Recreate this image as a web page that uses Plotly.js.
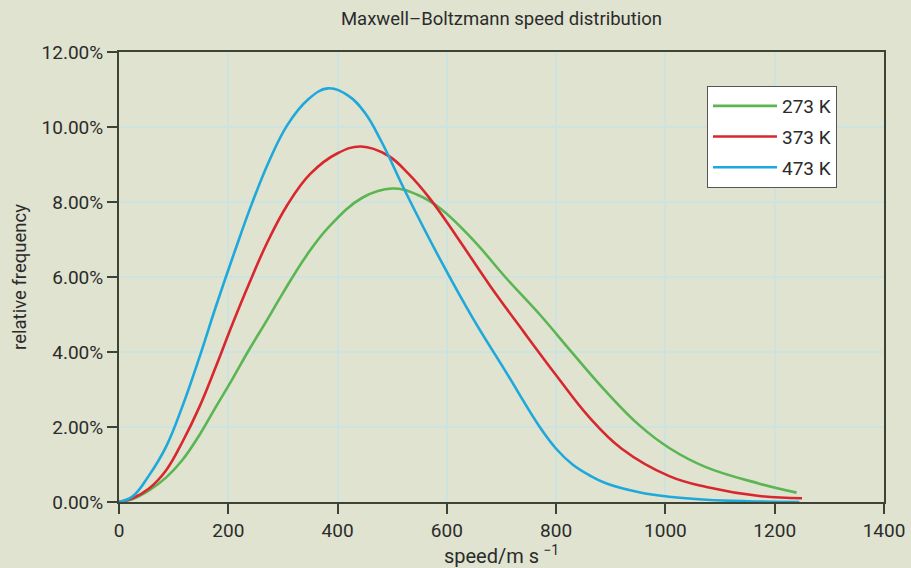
<!DOCTYPE html>
<html>
<head>
<meta charset="utf-8">
<script src="https://cdn.plot.ly/plotly-3.0.1.min.js"></script>
<style>html,body{margin:0;padding:0;background:#dfe3cf;}#chart{width:911px;height:568px;}</style>
</head>
<body>
<div id="chart"></div>
<script>
// Data (speed in m/s, relative frequency in %)
const seriesNames = ["273 K", "373 K", "473 K"];

const speed273 = [0, 25, 55, 86, 116, 147, 177, 208, 238, 270, 299, 342, 385, 446, 500, 545, 587, 648, 708, 770, 830, 891, 952, 1007, 1074, 1172, 1240];
const freq273  = [0, 0.08, 0.31, 0.65, 1.12, 1.78, 2.53, 3.29, 4.06, 4.83, 5.55, 6.55, 7.35, 8.12, 8.36, 8.2, 7.84, 6.99, 5.98, 5.0, 3.97, 2.95, 2.05, 1.44, 0.93, 0.49, 0.25];

const speed373 = [0, 25, 55, 86, 116, 147, 177, 208, 238, 270, 308, 350, 400, 443, 492, 530, 569, 617, 678, 740, 800, 860, 920, 1007, 1075, 1172, 1250];
const freq373  = [0, 0.1, 0.36, 0.84, 1.6, 2.53, 3.6, 4.76, 5.82, 6.88, 7.92, 8.75, 9.3, 9.48, 9.24, 8.75, 8.09, 7.1, 5.79, 4.55, 3.38, 2.27, 1.42, 0.69, 0.4, 0.16, 0.1];

const speed473 = [0, 25, 55, 86, 116, 147, 177, 211, 243, 275, 308, 345, 382, 420, 450, 480, 526, 587, 648, 708, 770, 800, 830, 860, 891, 952, 1007, 1075, 1150, 1245];
const freq473  = [0, 0.15, 0.71, 1.47, 2.55, 3.85, 5.2, 6.65, 7.95, 9.1, 10.05, 10.72, 11.03, 10.83, 10.38, 9.62, 8.22, 6.49, 4.89, 3.47, 2.0, 1.42, 1.0, 0.72, 0.5, 0.26, 0.14, 0.06, 0.02, 0.0];

const xTicks = [0, 200, 400, 600, 800, 1000, 1200, 1400];
const yTicks = [0, 2, 4, 6, 8, 10, 12];

const colors = ["#5ab552", "#d8272f", "#1fa8dc"];
const xs = [speed273, speed373, speed473];
const ys = [freq273, freq373, freq473];

const traces = seriesNames.map((n, i) => ({
  type: "scatter", mode: "lines", name: n,
  x: xs[i], y: ys[i],
  legendgroup: "g" + i,
  line: {color: colors[i], width: 2.6, shape: "spline", smoothing: 1.15}
}));

const axisColor = "#3e4434";
const gridColor = "#cde3df";
const font = "Roboto, 'Open Sans', sans-serif";

const layout = {
  width: 911, height: 568,
  paper_bgcolor: "#dfe3cf", plot_bgcolor: "#dfe3cf",
  margin: {l: 119, r: 27, t: 52, b: 66},
  font: {family: font, color: "#2b2b2b", size: 19},
  title: {text: "Maxwell\u2013Boltzmann speed distribution", x: 0.5, xref: "paper", xanchor: "center",
          y: 1 - 19 / 568, yref: "container", yanchor: "middle", font: {size: 18.5, family: font, color: "#2b2b2b"}},
  xaxis: {
    range: [0, 1400], tickvals: xTicks, ticktext: xTicks.map(String),
    ticks: "outside", ticklen: 10, tickwidth: 2, tickcolor: axisColor,
    showline: true, linecolor: axisColor, linewidth: 2, mirror: true,
    showgrid: true, gridcolor: gridColor, gridwidth: 2, zeroline: false,
    tickfont: {size: 19},
    title: {text: "speed/m s\u2009<sup>\u22121</sup>", font: {size: 20}, standoff: 5},
    automargin: false
  },
  yaxis: {
    range: [0, 12], tickvals: yTicks, ticktext: yTicks.map(v => v.toFixed(2) + "%"),
    ticks: "outside", ticklen: 10, tickwidth: 2, tickcolor: axisColor,
    showline: true, linecolor: axisColor, linewidth: 2, mirror: true,
    showgrid: true, gridcolor: gridColor, gridwidth: 2, zeroline: false,
    tickfont: {size: 19},
    title: {text: "relative frequency", font: {size: 18.5}, standoff: 10},
    automargin: false
  },
  legend: {
    x: 0.7686, y: 0.9244, xanchor: "left", yanchor: "top",
    bgcolor: "#ffffff", bordercolor: "#555555", borderwidth: 1,
    font: {size: 19}, itemwidth: 64, tracegroupgap: 3, traceorder: "grouped"
  },
  showlegend: true
};

Plotly.newPlot("chart", traces, layout, {displayModeBar: false, staticPlot: true});
</script>
</body>
</html>
